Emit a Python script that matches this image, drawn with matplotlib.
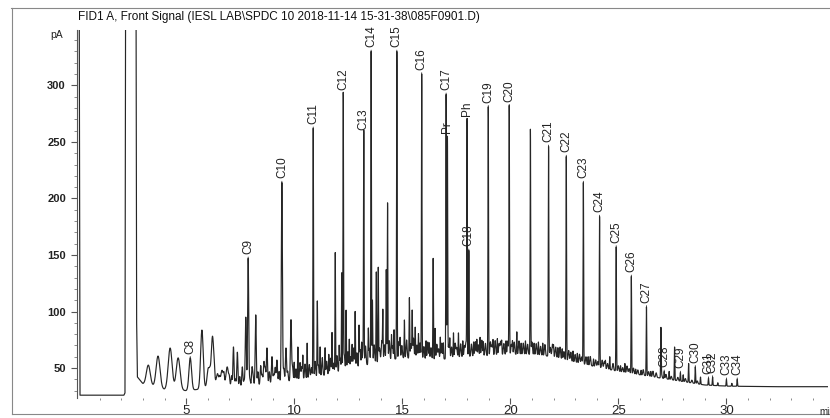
import numpy as np
import matplotlib.pyplot as plt
from matplotlib.lines import Line2D

plt.rcParams['font.family'] = ['Liberation Sans', 'DejaVu Sans']

# labelled peaks: name, retention time (min), apex (pA)
peak_names = ["C8", "C9", "C10", "C11", "C12", "C13", "C14", "C15", "C16", "C17", "Pr",
              "Ph", "C18", "C19", "C20", "C21", "C22", "C23", "C24", "C25", "C26", "C27",
              "C28", "C29", "C30", "C31", "C32", "C33", "C34"]
peak_times = [5.19, 7.87, 9.43, 10.88, 12.27, 13.22, 13.56, 14.75, 15.90, 17.03, 17.09,
              18.00, 18.08, 18.98, 19.95, 21.77, 22.59, 23.38, 24.13, 24.90, 25.60, 26.30,
              27.12, 27.87, 28.56, 29.17, 29.36, 30.00, 30.50]
peak_apex = [59, 147, 214, 262, 292, 257, 330, 330, 310, 292, 254,
             269, 154, 281, 282, 246, 237, 214, 184, 157, 131, 104,
             47, 46, 51, 41, 42, 40, 40]

# unlabelled peaks, apex in pA
minor_times = [3.25, 3.70, 4.26, 4.63, 5.73, 6.03, 6.22, 6.45, 6.66, 6.90, 7.19, 7.37, 7.60,
               7.76, 8.05, 8.22, 8.45, 8.60, 8.74, 8.97, 9.20, 9.62, 9.85, 10.00, 10.17,
               10.40, 10.60, 11.07, 11.20, 11.43, 11.60, 11.75, 11.90, 12.08, 12.20, 12.40,
               12.55, 12.68, 12.82, 13.00, 13.12, 13.43, 13.62, 13.80, 13.89, 14.10, 14.26,
               14.32, 14.50, 14.62, 14.90, 15.10, 15.33, 15.46, 15.60, 15.75, 16.10, 16.25,
               16.43, 16.52, 16.76, 16.90, 17.20, 17.37, 17.60, 17.80, 18.30, 18.45, 18.60,
               18.75, 19.20, 19.40, 19.60, 19.80, 20.10, 20.30, 20.50, 20.70, 20.93, 21.10,
               21.30, 21.50, 22.00, 22.20, 22.40, 22.90, 23.10, 23.60, 23.85, 24.40, 24.60,
               25.10, 25.30, 25.80, 26.05, 26.50, 26.97, 27.35, 27.60, 28.00, 28.25, 28.80,
               29.60, 30.25]
minor_apex = [52.6, 60.6, 67.7, 59, 83.6, 50, 78, 45, 48, 51, 68.6, 64, 51,
              95, 50, 97, 52, 55, 67.7, 60, 57, 67.7, 92.5, 55, 68.6,
              60, 72, 108, 68.6, 67.7, 62, 81, 152, 68.6, 134, 101,
              75, 70, 99.6, 86, 72, 83.6, 110, 135, 138.5, 99.6, 137,
              196, 78, 83.6, 75, 92.5, 112, 99.6, 86, 80, 74, 72,
              147, 85, 77, 72, 75, 81, 81, 74, 73, 75, 77,
              73, 74, 76, 73, 74, 73, 82, 72, 74, 261, 72,
              73, 72, 69, 68, 67, 65, 63, 60, 58, 56, 60,
              52, 54, 49, 48, 47, 84.5, 47, 68.6, 44, 54, 42,
              37, 36.5]

# small unresolved "grass" peaks, height above the baseline (pA)
grass_times = [6.10, 6.30, 6.55, 6.75, 7.00, 7.10, 7.28, 7.48, 7.68, 7.95, 8.10, 8.32, 8.52,
               8.66, 8.85, 9.05, 9.12, 9.30, 9.52, 9.70, 9.92, 10.08, 10.27, 10.35, 10.50,
               10.70, 10.80, 10.97, 11.12, 11.30, 11.50, 11.68, 11.82, 11.98, 12.13, 12.32,
               12.48, 12.62, 12.75, 12.90, 13.05, 13.18, 13.30, 13.48, 13.70, 13.95, 14.05,
               14.18, 14.40, 14.55, 14.85, 14.98, 15.20, 15.40, 15.52, 15.68, 15.82, 16.00,
               16.18, 16.33, 16.60, 16.68, 16.83, 17.15, 17.28, 17.45, 17.52, 17.70, 17.88,
               17.95, 18.20, 18.38, 18.52, 18.68, 18.85, 19.08, 19.15, 19.30, 19.48, 19.55,
               19.70, 19.88, 20.05, 20.18, 20.40, 20.60, 20.80, 21.00, 21.20, 21.40, 21.60,
               21.85, 21.95, 22.10, 22.30, 22.48, 22.70, 22.80, 23.00, 23.20, 23.30, 23.50,
               23.70, 23.95, 24.05, 24.25, 24.35, 24.50, 24.75, 25.00, 25.20, 25.40, 25.50,
               25.70, 25.90, 26.15, 26.40, 26.60, 26.75, 27.00, 27.20, 27.45, 27.75, 28.10,
               28.40, 28.65]
grass_height = [4, 6, 5, 8, 6, 10, 7, 9, 5, 6, 8, 12, 9,
                14, 11, 8, 14, 10, 12, 9, 13, 10, 15, 11, 13,
                12, 9, 14, 10, 16, 12, 14, 9, 15, 12, 14,
                16, 11, 18, 13, 15, 12, 17, 14, 16, 12, 18,
                14, 17, 12, 15, 11, 16, 13, 18, 12, 14, 11,
                15, 10, 13, 9, 14, 12, 10, 13, 9, 12, 10,
                13, 11, 13, 10, 14, 11, 12, 9, 13, 10, 12,
                10, 12, 9, 11, 12, 10, 9, 11, 10, 8, 10,
                8, 11, 9, 10, 7, 9, 8, 7, 8, 6, 7,
                8, 6, 5, 7, 6, 5, 6, 5, 4, 6, 4,
                5, 4, 5, 4, 5, 4, 3, 4, 3, 3, 3,
                2.5, 2.5]

# baseline hump (lower envelope of the trace)
base_t = [2.75, 3.0, 4.0, 5.0, 6.0, 7.0, 8.0, 9.0, 10.0, 11.0, 12.0, 13.0, 14.0, 15.0,
          16.0, 17.0, 18.0, 19.0, 20.0, 21.0, 22.0, 23.0, 24.0, 25.0, 26.0, 27.0, 28.0,
          29.0, 30.0, 32.0, 35.0]
base_y = [42, 36, 31, 30, 32, 33, 34, 36, 39, 42, 46, 51, 56, 59, 58, 58, 60, 61, 62,
          62, 60, 55, 51, 47, 44, 41, 38, 35, 34, 33.5, 33.5]

# solvent front, off scale
solvent_t = [0.0, 0.05, 0.09, 2.12, 2.17, 2.2, 2.68, 2.71, 2.74]
solvent_y = [400, 400, 26, 26, 28, 400, 400, 90, 45]


def peak_width(t):
    if t < 5:
        return 0.09
    if t < 7:
        return 0.06
    if t < 10:
        return 0.025
    return 0.013


t = np.arange(2.74, 34.7, 0.002)
sig = np.interp(t, base_t, base_y)
for tt, ap in zip(peak_times + minor_times, peak_apex + minor_apex):
    h = ap - np.interp(tt, base_t, base_y)
    w = peak_width(tt)
    sig = sig + h * np.exp(-0.5 * ((t - tt) / w) ** 2)
for tt, h in zip(grass_times, grass_height):
    sig = sig + h * np.exp(-0.5 * ((t - tt) / 0.025) ** 2)

x_all = np.concatenate([solvent_t, t])
y_all = np.concatenate([solvent_y, sig])

fig = plt.figure(figsize=(8.3, 4.18), dpi=100)
ax = fig.add_axes([77 / 830, 20 / 418, 751 / 830, 368 / 418])
ax.plot(x_all, y_all, color="#262626", lw=0.85)

for name, tt, ap in zip(peak_names, peak_times, peak_apex):
    ax.annotate(name, (tt, ap), xytext=(0, 3), textcoords="offset points",
                rotation=90, ha="center", va="bottom", fontsize=8.5, color="#222222",
                arrowprops=dict(arrowstyle="-", lw=0.6, color="#333333", shrinkA=0, shrinkB=0),
                annotation_clip=False)

ax.set_xlim(-0.05, 34.7)
ax.set_ylim(23.5, 349)
ax.set_yticks([50, 100, 150, 200, 250, 300])
ax.set_yticks(np.arange(30, 350, 10), minor=True)
ax.set_xticks([5, 10, 15, 20, 25, 30])
ax.set_xticks(np.arange(1, 35, 1), minor=True)
for s in ["top", "right", "bottom"]:
    ax.spines[s].set_visible(False)
ax.spines["left"].set_color("#555555")
ax.spines["left"].set_linewidth(0.8)
ax.tick_params(axis="y", which="major", length=4, width=0.8, color="#555555",
               labelsize=8, labelcolor="#222222", pad=4)
ax.tick_params(axis="y", which="minor", length=2, width=0.6, color="#777777")
ax.tick_params(axis="x", which="major", length=4, width=0.8, color="#555555",
               labelsize=9.5, labelcolor="#222222", pad=1)
ax.tick_params(axis="x", which="minor", length=1.5, width=0.6, color="#777777")
for lab in ax.get_yticklabels():
    lab.set_fontweight("bold")

fig.text(57 / 830, 1 - 35 / 418, "pA", fontsize=7.5, ha="center", va="center", color="#222222")
fig.text(78 / 830, 1 - 17 / 418,
         "FID1 A, Front Signal (IESL LAB\\SPDC 10 2018-11-14 15-31-38\\085F0901.D)",
         fontsize=8.5, ha="left", va="center", color="#111111")
fig.text(819 / 830, 1 / 418, "min", fontsize=7, ha="left", va="bottom", color="#222222")

# scanned page frame
fig.add_artist(Line2D([11 / 830, 1.0], [1 - 8 / 418, 1 - 8 / 418], color="#888888", lw=0.8))
fig.add_artist(Line2D([12 / 830, 12 / 830], [1 - 8 / 418, 1 - 414 / 418], color="#888888", lw=0.8))
fig.add_artist(Line2D([12 / 830, 1.0], [1 - 414 / 418, 1 - 414 / 418], color="#888888", lw=0.8))

fig.savefig("out.png", dpi=100)
